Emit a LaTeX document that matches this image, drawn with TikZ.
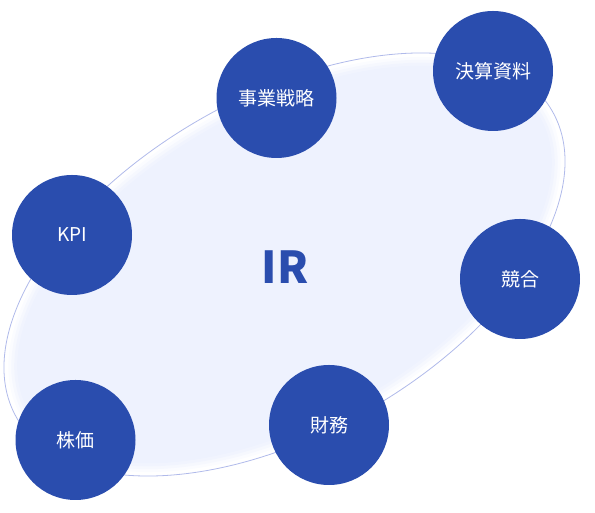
\documentclass[tikz,border=0pt]{standalone}
\usepackage{fontspec}
\setmainfont{Noto Sans CJK JP}
\definecolor{irblue}{HTML}{2A4DAE}
\definecolor{irfill}{HTML}{EEF2FE}
\definecolor{irline}{HTML}{B0BAEA}
\tikzset{
  topic/.style={circle, fill=irblue, text=white, minimum size=120pt, inner sep=0pt, font=\fontsize{19}{22}\selectfont},
  ring/.style={rotate around={29.8:(ec)}}
}
\begin{document}
\begin{tikzpicture}[x=1pt, y=1pt]
\useasboundingbox (0,0) rectangle (595,513);
\coordinate (ec) at (284.5,248.5);
% soft filled ellipse and thin outline
\foreach \d/\o in {8/0.25,5/0.4,2/0.6,-1/1}
  \fill[ring, irfill, opacity=\o] (ec) ellipse [x radius=296+\d, y radius=156+\d];
\draw[ring, irline, line width=0.8pt] (ec) ellipse [x radius=308.6, y radius=167.9];
\node[text=irblue, font=\bfseries\fontsize{44}{48}\selectfont] (ir) at (285,246) {IR};
\node[topic] (jigyo) at (276.5,415) {事業戦略};
\node[topic] (kessan) at (493,442) {決算資料};
\node[topic] (kpi) at (72,278) {KPI};
\node[topic] (kyogo) at (520,234) {競合};
\node[topic] (zaimu) at (329,88) {財務};
\node[topic] (kabuka) at (75.5,73) {株価};
\end{tikzpicture}
\end{document}
